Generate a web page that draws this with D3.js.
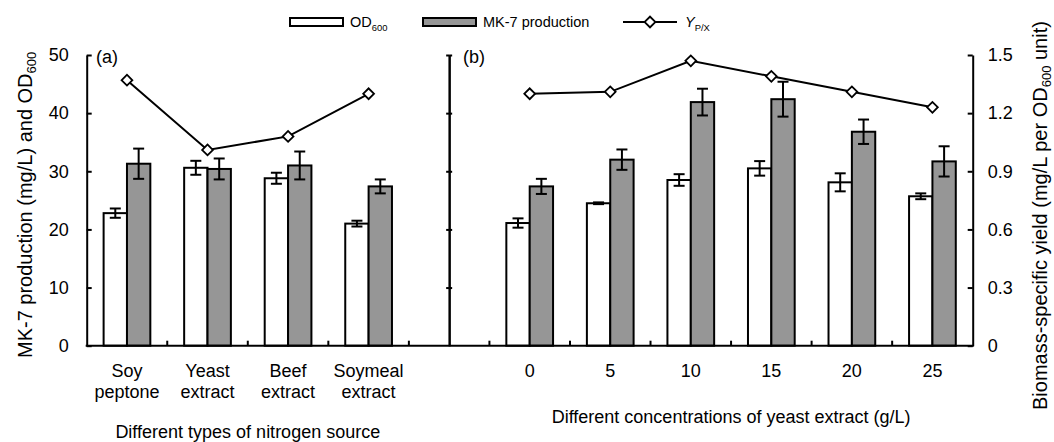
<!DOCTYPE html>
<html>
<head>
<meta charset="utf-8">
<script src="https://cdn.jsdelivr.net/npm/d3@7"></script>
<style>
  body { margin: 0; background: #fff; }
  text { font-family: "Liberation Sans", Arial, sans-serif; fill: #000; }
  .tick text { font-size: 18px; }
</style>
</head>
<body>
<div id="chart"></div>
<script>
// panel (a) - nitrogen sources
var sourcesA = [["Soy", "peptone"], ["Yeast", "extract"], ["Beef", "extract"], ["Soymeal", "extract"]];
var odA = [22.8, 30.6, 28.8, 21.0];
var odErrA = [0.8, 1.2, 0.95, 0.5];
var mk7A = [31.3, 30.4, 31.0, 27.4];
var mk7ErrA = [2.6, 1.8, 2.4, 1.2];
var ypxA = [1.37, 1.01, 1.08, 1.30];

// panel (b) - yeast extract concentration (g/L)
var concB = ["0", "5", "10", "15", "20", "25"];
var odB = [21.1, 24.5, 28.5, 30.5, 28.1, 25.7];
var odErrB = [0.8, 0.15, 1.0, 1.25, 1.55, 0.5];
var mk7B = [27.4, 32.0, 41.9, 42.4, 36.8, 31.7];
var mk7ErrB = [1.3, 1.75, 2.3, 3.0, 2.1, 2.6];
var ypxB = [1.30, 1.31, 1.47, 1.39, 1.31, 1.23];

var leftTicks = [0, 10, 20, 30, 40, 50];
var rightTicks = [0, 0.3, 0.6, 0.9, 1.2, 1.5];

var width = 1054, height = 442;
var x0 = 86.7, x1 = 972.7, yTop = 55, yBot = 345.7;

var svg = d3.select("#chart")
  .append("svg")
    .attr("width", width)
    .attr("height", height);

// one band per category, with an empty band between the panels
var keysA = sourcesA.map(function(d, i){ return "a" + i; });
var keysB = concB.map(function(d){ return "b" + d; });
var keys = keysA.concat(["gap"]).concat(keysB);

var x = d3.scaleBand()
  .domain(keys)
  .range([x0, x1]);

var y = d3.scaleLinear()
  .domain([0, 50])
  .range([yBot, yTop]);

var yR = d3.scaleLinear()
  .domain([0, 1.5])
  .range([yBot, yTop]);

var rows = [];
keysA.forEach(function(k, i){
  rows.push({key: k, od: odA[i], odErr: odErrA[i], mk: mk7A[i], mkErr: mk7ErrA[i], ypx: ypxA[i]});
});
keysB.forEach(function(k, i){
  rows.push({key: k, od: odB[i], odErr: odErrB[i], mk: mk7B[i], mkErr: mk7ErrB[i], ypx: ypxB[i]});
});

var barW = x.bandwidth() * 0.29;
var cx = function(k){ return x(k) + x.bandwidth() / 2; };

// bars
var bars = svg.append("g");
bars.selectAll(".od")
  .data(rows)
  .enter()
  .append("rect")
    .attr("x", function(d){ return cx(d.key) - barW; })
    .attr("y", function(d){ return y(d.od); })
    .attr("width", barW)
    .attr("height", function(d){ return y(0) - y(d.od); })
    .style("fill", "#fff")
    .style("stroke", "#000")
    .style("stroke-width", 2);

bars.selectAll(".mk")
  .data(rows)
  .enter()
  .append("rect")
    .attr("x", function(d){ return cx(d.key); })
    .attr("y", function(d){ return y(d.mk); })
    .attr("width", barW)
    .attr("height", function(d){ return y(0) - y(d.mk); })
    .style("fill", "#969696")
    .style("stroke", "#000")
    .style("stroke-width", 2);

// error bars
var errs = [];
rows.forEach(function(d){
  errs.push({xc: cx(d.key) - barW / 2, v: d.od, e: d.odErr});
  errs.push({xc: cx(d.key) + barW / 2, v: d.mk, e: d.mkErr});
});
var eb = svg.append("g")
  .style("stroke", "#000")
  .style("stroke-width", 2);
eb.selectAll(".ev")
  .data(errs)
  .enter()
  .append("line")
    .attr("x1", function(d){ return d.xc; })
    .attr("x2", function(d){ return d.xc; })
    .attr("y1", function(d){ return y(d.v - d.e); })
    .attr("y2", function(d){ return y(d.v + d.e); });
[-1, 1].forEach(function(s){
  eb.selectAll(".cap" + s)
    .data(errs)
    .enter()
    .append("line")
      .attr("x1", function(d){ return d.xc - 5.5; })
      .attr("x2", function(d){ return d.xc + 5.5; })
      .attr("y1", function(d){ return y(d.v + s * d.e); })
      .attr("y2", function(d){ return y(d.v + s * d.e); });
});

// axes
var axL = svg.append("g")
  .attr("transform", "translate(" + x0 + ",0)")
  .call(d3.axisLeft(y).tickValues(leftTicks).tickSizeInner(-5).tickSizeOuter(0).tickPadding(18));

var axR = svg.append("g")
  .attr("transform", "translate(" + x1 + ",0)")
  .call(d3.axisRight(yR).tickValues(rightTicks).tickSizeInner(-5).tickSizeOuter(0).tickPadding(15)
    .tickFormat(function(d){ return d === 0 ? "0" : d3.format(".1f")(d); }));

var xm = cx("gap");
[-3, 3].forEach(function(s){
  svg.append("g")
    .attr("transform", "translate(" + xm + ",0)")
    .call(d3.axisLeft(y).tickValues(leftTicks.slice(1)).tickSizeInner(s).tickSizeOuter(0).tickFormat(""));
});

svg.selectAll(".domain, .tick line")
  .style("stroke", "#000")
  .style("stroke-width", 2);

// x axis with ticks between categories
svg.append("line")
  .attr("x1", x0 - 1).attr("x2", x1 + 1)
  .attr("y1", yBot).attr("y2", yBot)
  .style("stroke", "#000")
  .style("stroke-width", 2);
svg.append("g")
  .selectAll("line")
  .data(keys.slice(1))
  .enter()
  .append("line")
    .attr("x1", function(k){ return x(k); })
    .attr("x2", function(k){ return x(k); })
    .attr("y1", yBot)
    .attr("y2", yBot - 5)
    .style("stroke", "#000")
    .style("stroke-width", 2);

// Y(P/X) lines
var line = d3.line()
  .x(function(d){ return cx(d.key); })
  .y(function(d){ return yR(d.ypx); });
[rows.slice(0, 4), rows.slice(4)].forEach(function(part){
  svg.append("path")
    .datum(part)
    .attr("d", line)
    .style("fill", "none")
    .style("stroke", "#000")
    .style("stroke-width", 2);
});
var diamond = d3.symbol().type(d3.symbolSquare).size(58);
svg.append("g")
  .selectAll("path")
  .data(rows)
  .enter()
  .append("path")
    .attr("d", diamond)
    .attr("transform", function(d){ return "translate(" + cx(d.key) + "," + yR(d.ypx) + ") rotate(45)"; })
    .style("fill", "#fff")
    .style("stroke", "#000")
    .style("stroke-width", 1.8);

// category labels
var labels = svg.append("g").attr("text-anchor", "middle").style("font-size", "18px");
sourcesA.forEach(function(lines, i){
  var t = labels.append("text").attr("x", cx(keysA[i])).attr("y", 377);
  t.append("tspan").attr("x", cx(keysA[i])).text(lines[0]);
  t.append("tspan").attr("x", cx(keysA[i])).attr("dy", 21).text(lines[1]);
});
concB.forEach(function(c, i){
  labels.append("text").attr("x", cx(keysB[i])).attr("y", 377).text(c);
});

labels.append("text")
  .attr("x", (x0 + x("gap")) / 2)
  .attr("y", 438)
  .text("Different types of nitrogen source");
labels.append("text")
  .attr("x", (x(keysB[0]) + x1) / 2)
  .attr("y", 423)
  .text("Different concentrations of yeast extract (g/L)");

labels.append("text").attr("text-anchor", "start").attr("x", 96).attr("y", 63).text("(a)");
labels.append("text").attr("text-anchor", "start").attr("x", 463).attr("y", 63).text("(b)");

// axis titles with subscripts
var withSub = function(sel, before, sub, after){
  sel.append("tspan").text(before);
  sel.append("tspan").attr("dy", 4).style("font-size", "0.65em").text(sub);
  if (after) sel.append("tspan").attr("dy", -4).text(after);
};

var tl = labels.append("text")
  .attr("text-anchor", "start")
  .style("font-size", "20px")
  .attr("transform", "translate(32,358) rotate(-90)");
withSub(tl, "MK-7 production (mg/L) and OD", "600");

var tr = labels.append("text")
  .attr("text-anchor", "start")
  .style("font-size", "20px")
  .attr("transform", "translate(1047,410) rotate(-90)");
withSub(tr, "Biomass-specific yield (mg/L per OD", "600", " unit)");

// legend
var leg = svg.append("g").style("font-size", "14.5px");
leg.append("rect").attr("x", 290).attr("y", 18).attr("width", 53).attr("height", 8)
  .style("fill", "#fff").style("stroke", "#000").style("stroke-width", 2);
withSub(leg.append("text").attr("x", 350).attr("y", 27), "OD", "600");
leg.append("rect").attr("x", 423).attr("y", 18).attr("width", 53).attr("height", 8)
  .style("fill", "#969696").style("stroke", "#000").style("stroke-width", 2);
leg.append("text").attr("x", 483).attr("y", 27).text("MK-7 production");
leg.append("line").attr("x1", 623).attr("x2", 677).attr("y1", 22).attr("y2", 22)
  .style("stroke", "#000").style("stroke-width", 2);
leg.append("path").attr("d", diamond)
  .attr("transform", "translate(650,22) rotate(45)")
  .style("fill", "#fff").style("stroke", "#000").style("stroke-width", 1.8);
var ly = leg.append("text").attr("x", 685).attr("y", 27);
ly.append("tspan").style("font-style", "italic").text("Y");
ly.append("tspan").attr("dy", 4).style("font-size", "0.65em").text("P/X");
</script>
</body>
</html>
